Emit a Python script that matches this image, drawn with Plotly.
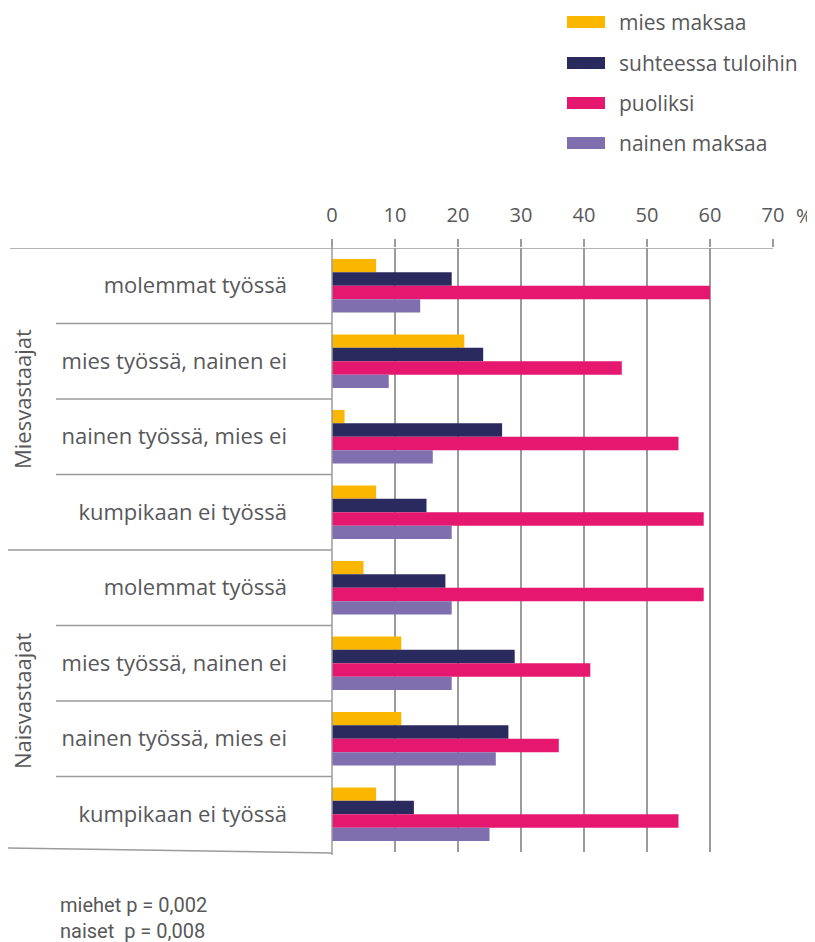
import plotly.graph_objects as go

# ---- data ----
groups = ["Miesvastaajat", "Naisvastaajat"]
situations = ["molemmat työssä", "mies työssä, nainen ei",
              "nainen työssä, mies ei", "kumpikaan ei työssä"]
series_names = ["mies maksaa", "suhteessa tuloihin", "puoliksi", "nainen maksaa"]
mies_maksaa = [7, 21, 2, 7, 5, 11, 11, 7]
suhteessa_tuloihin = [19, 24, 27, 15, 18, 29, 28, 13]
puoliksi = [60, 46, 55, 59, 59, 41, 36, 55]
nainen_maksaa = [14, 9, 16, 19, 19, 19, 26, 25]
x_ticks = [0, 10, 20, 30, 40, 50, 60, 70]
notes = ["miehet p = 0,002", "naiset  p = 0,008"]
n_text = "N = 1061"

# ---- style ----
colors = ["#FBB700", "#2A2A5F", "#E6176F", "#7F6FAF"]
text_col = "#58585A"
line_col = "#9B9B9B"
FONT = "Open Sans"
OFF = 8                       # page body margin
W, H = 815 - OFF, 942 - OFF
PL, PR, PT, PB = 332, 773, 248, 852   # plot area in page pixels
L, R, T, B = PL - OFF, 815 - PR, PT - OFF, 942 - PB
pw, ph = PR - PL, PB - PT

def px_x(px):
    return (px - PL) / pw

def px_y(py):
    return (PB - py) / ph

keys = [f"{g}|{s}" for g in groups for s in situations]
labels = [s for g in groups for s in situations]
values = [mies_maksaa, suhteessa_tuloihin, puoliksi, nainen_maksaa]

fig = go.Figure()
for name, vals, col in zip(series_names, values, colors):
    fig.add_trace(go.Bar(y=keys, x=vals, orientation="h", name=name,
                         marker=dict(color=col, line=dict(width=0)),
                         showlegend=False))

shapes = []
# top line
shapes.append(dict(type="line", xref="paper", yref="y", x0=px_x(10), x1=1,
                   y0=-0.5, y1=-0.5, line=dict(color=line_col, width=1.5)))
# separators
n = len(keys)
for i in range(1, n):
    x0 = px_x(7) if i % len(situations) == 0 else px_x(56)
    shapes.append(dict(type="line", xref="paper", yref="y", x0=x0, x1=0,
                       y0=i - 0.5, y1=i - 0.5, line=dict(color=line_col, width=1.5)))
# bottom slanted line
shapes.append(dict(type="line", xref="paper", yref="paper", x0=px_x(7), x1=0,
                   y0=px_y(848), y1=px_y(853), line=dict(color=line_col, width=1.5)))
# vertical axis line
shapes.append(dict(type="line", xref="paper", yref="paper", x0=0, x1=0,
                   y0=px_y(855), y1=px_y(240), line=dict(color=line_col, width=1.5)))

# manual legend
leg_y = [22, 63, 103, 143]
annotations = []
for name, col, yy in zip(series_names, colors, leg_y):
    shapes.append(dict(type="rect", xref="paper", yref="paper",
                       x0=px_x(567), x1=px_x(605), y0=px_y(yy + 6), y1=px_y(yy - 6),
                       fillcolor=col, line=dict(width=0)))
    annotations.append(dict(xref="paper", yref="paper", x=px_x(617), y=px_y(yy),
                            text=name, showarrow=False, xanchor="left", yanchor="middle",
                            font=dict(family=FONT, size=21, color=text_col)))

# group labels
for gi, g in enumerate(groups):
    yc = gi * len(situations) + (len(situations) - 1) / 2
    annotations.append(dict(xref="paper", yref="y", x=px_x(22), y=yc, text=g,
                            textangle=-90, showarrow=False, xanchor="center", yanchor="middle",
                            font=dict(family=FONT, size=22, color=text_col)))

# percent sign
annotations.append(dict(xref="paper", yref="paper", x=px_x(794), y=px_y(215), text="%",
                        showarrow=False, xanchor="left", yanchor="middle",
                        font=dict(family=FONT, size=20, color=text_col)))
# notes
annotations.append(dict(xref="paper", yref="paper", x=px_x(58), y=px_y(918),
                        text="<br>".join(notes), align="left",
                        showarrow=False, xanchor="left", yanchor="middle",
                        font=dict(family="Roboto", size=20, color=text_col)))
annotations.append(dict(xref="paper", yref="paper", x=px_x(694), y=px_y(933), text=n_text,
                        showarrow=False, xanchor="left", yanchor="top",
                        font=dict(family=FONT, size=20, color=text_col)))

fig.update_layout(
    width=W, height=H, autosize=False,
    margin=dict(l=L, r=R, t=T, b=B, pad=0),
    paper_bgcolor="white", plot_bgcolor="white",
    barmode="group", bargap=0.29, bargroupgap=0,
    shapes=shapes, annotations=annotations,
    font=dict(family=FONT, color=text_col),
    xaxis=dict(side="top", range=[0, 70], tickvals=x_ticks,
               ticktext=[str(v) for v in x_ticks],
               showgrid=True, gridcolor=line_col, gridwidth=1.5,
               zeroline=False, showline=False,
               ticks="outside", ticklen=8, tickcolor=line_col, tickwidth=1.5,
               ticklabelstandoff=9,
               tickfont=dict(family=FONT, size=20, color=text_col)),
    yaxis=dict(type="category", categoryorder="array", categoryarray=keys,
               range=[n - 0.5, -0.5], tickvals=keys, ticktext=labels,
               showgrid=False, zeroline=False, showline=False, ticks="",
               ticklabelstandoff=44,
               tickfont=dict(family=FONT, size=22, color=text_col)),
)

fig.write_html("out.html")
